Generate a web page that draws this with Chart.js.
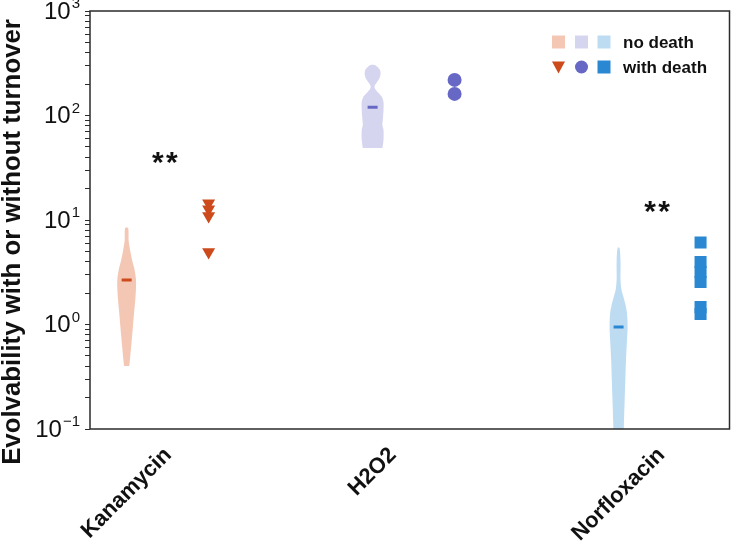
<!DOCTYPE html>
<html>
<head>
<meta charset="utf-8">
<script src="https://cdn.jsdelivr.net/npm/chart.js@4/dist/chart.umd.min.js"></script>
<style>
  html, body { margin: 0; padding: 0; background: #fff; }
</style>
</head>
<body>
<canvas id="evo" width="738" height="542"></canvas>
<script>
// categories, in the order they sit on the x axis
var categories = ['Kanamycin', 'H2O2', 'Norfloxacin'];

// violin outlines (no death): evolvability, bottom -> top, and relative density there
var kanaValues   = [0.401, 0.428, 0.609, 0.886, 1.29, 1.71, 2.14, 2.67, 3.32, 4.14, 5.16, 6.44, 8.37];
var kanaDensity  = [0.23, 0.27, 0.41, 0.55, 0.68, 0.79, 0.85, 0.86, 0.73, 0.50, 0.32, 0.18, 0.14];
var h2o2Values   = [48.9, 58.3, 72.7, 81.1, 94.4, 113, 134.7, 150.4, 164, 179.5, 191.6, 209.5, 228.6, 249.6, 272.5, 291, 304];
var h2o2Density  = [0.90, 1.00, 1.00, 0.90, 0.95, 1.00, 1.00, 0.86, 0.55, 0.23, 0.18, 0.41, 0.64, 0.73, 0.68, 0.45, 0.18];
var norfValues   = [0.0505, 0.0785, 0.122, 0.1895, 0.294, 0.457, 0.637, 0.886, 1.057, 1.29, 1.54, 1.83, 2.14, 2.67, 3.96, 5.40];
var norfDensity  = [0.41, 0.45, 0.50, 0.56, 0.62, 0.68, 0.75, 0.82, 0.82, 0.77, 0.64, 0.45, 0.27, 0.18, 0.18, 0.09];

// medians of the no-death runs
var medians = [2.67, 120, 0.946];

// with death, single runs
var kanaDeath = [14.5, 12.7, 10.9, 4.94];
var h2o2Death = [219, 161];
var norfDeath = [6.09, 3.96, 3.18, 2.55, 1.47, 1.26];

// significance marks
var sigText = ['**', '**'];
var sigX = [0.155, 2.157];
var sigY = [42.8, 14.5];

// y axis decades and their exponents
var yDecades = [0.1, 1, 10, 100, 1000];
var yExponents = ['\u22121', '0', '1', '2', '3'];

var legendLabels = ['no death', 'with death'];

var lightColors = ['#f4c7b4', '#d5d5f0', '#bddcf2'];
var darkColors = ['#cc4a1c', '#6767c6', '#2a87d2'];
var deathStyles = ['triangle', 'circle', 'rect'];

var FONT = "'Liberation Sans', Arial, sans-serif";
var VIOLIN_HALF = 0.0443;   // widest violin half width, in category units
var DEATH_SHIFT = 1 / 3;    // death runs sit right of the violin

function violinPoints(center, values, density) {
  var pts = [];
  for (var i = 0; i < values.length; i++) {
    pts.push({ x: center + density[i] * VIOLIN_HALF, y: values[i] });
  }
  for (var j = values.length - 1; j >= 0; j--) {
    pts.push({ x: center - density[j] * VIOLIN_HALF, y: values[j] });
  }
  return pts;
}

function column(x, values) {
  return values.map(function(v) { return { x: x, y: v }; });
}

// minor + major tick positions for the log axis
var yTickMarks = [];
yDecades.forEach(function(d, i) {
  if (i === yDecades.length - 1) { yTickMarks.push(d); return; }
  for (var k = 1; k <= 9; k++) yTickMarks.push(+(d * k).toPrecision(3));
});

var violins = [[kanaValues, kanaDensity], [h2o2Values, h2o2Density], [norfValues, norfDensity]];
var deaths = [kanaDeath, h2o2Death, norfDeath];

var datasets = [];
violins.forEach(function(v, i) {
  datasets.push({
    type: 'line',
    order: 3,
    data: violinPoints(i, v[0], v[1]),
    backgroundColor: lightColors[i],
    borderColor: 'rgba(0,0,0,0)',
    borderWidth: 0,
    pointRadius: 0,
    fill: 'shape',
    tension: 0.3
  });
});
medians.forEach(function(m, i) {
  datasets.push({
    order: 0,
    data: [{ x: i, y: m }],
    pointStyle: 'line',
    pointRadius: 5,
    borderWidth: 3,
    borderColor: darkColors[i],
    backgroundColor: darkColors[i]
  });
});
deaths.forEach(function(d, i) {
  datasets.push({
    order: 1,
    data: column(i + DEATH_SHIFT, d),
    pointStyle: deathStyles[i],
    rotation: deathStyles[i] === 'triangle' ? 180 : 0,
    pointRadius: deathStyles[i] === 'triangle' ? 7.5 : (deathStyles[i] === 'rect' ? 8.5 : 7),
    borderWidth: 0,
    backgroundColor: darkColors[i],
    borderColor: darkColors[i]
  });
});

function drawMarker(ctx, style, x, y, size, color) {
  ctx.fillStyle = color;
  ctx.beginPath();
  if (style === 'triangle') {
    ctx.moveTo(x - size * 0.5, y - size * 0.42);
    ctx.lineTo(x + size * 0.5, y - size * 0.42);
    ctx.lineTo(x, y + size * 0.5);
    ctx.closePath();
  } else if (style === 'circle') {
    ctx.arc(x, y, size / 2, 0, Math.PI * 2);
  } else {
    ctx.rect(x - size / 2, y - size / 2, size, size);
  }
  ctx.fill();
}

var decorations = {
  id: 'decorations',
  afterDatasetsDraw: function(chart) {
    var ctx = chart.ctx;
    var area = chart.chartArea;
    var xs = chart.scales.x;
    var ys = chart.scales.y;

    // frame
    ctx.save();
    ctx.strokeStyle = '#2b2b2b';
    ctx.lineWidth = 1.5;
    ctx.strokeRect(area.left, area.top, area.right - area.left, area.bottom - area.top);

    // y tick labels with superscripts
    ctx.fillStyle = '#111';
    ctx.textBaseline = 'middle';
    yDecades.forEach(function(d, i) {
      var py = ys.getPixelForValue(d);
      var right = area.left - 10;
      ctx.font = '15px ' + FONT;
      ctx.textAlign = 'right';
      var supW = ctx.measureText(yExponents[i]).width;
      ctx.fillText(yExponents[i], right, py - 7);
      ctx.font = '24px ' + FONT;
      ctx.fillText('10', right - supW - 1, py + 1);
    });

    // x category labels, rotated 45 degrees, centred on their tick
    ctx.font = 'bold 22px ' + FONT;
    ctx.textAlign = 'center';
    categories.forEach(function(c, i) {
      var w = ctx.measureText(c).width;
      var half = (w + 16) / (2 * Math.SQRT2);
      ctx.save();
      ctx.translate(xs.getPixelForValue(i), area.bottom + 17 + half);
      ctx.rotate(-Math.PI / 4);
      ctx.fillText(c, 0, 0);
      ctx.restore();
    });

    // y axis title
    ctx.save();
    ctx.font = 'bold 25.8px ' + FONT;
    ctx.translate(13, 242);
    ctx.rotate(-Math.PI / 2);
    ctx.fillText('Evolvability with or without turnover', 0, 0);
    ctx.restore();

    // significance stars, drawn one by one with a small gap
    ctx.font = 'bold 30px ' + FONT;
    ctx.textBaseline = 'alphabetic';
    sigText.forEach(function(t, i) {
      var cx = xs.getPixelForValue(sigX[i]);
      var cy = ys.getPixelForValue(sigY[i]) + 18;
      var n = t.length;
      for (var s = 0; s < n; s++) {
        ctx.fillText(t[s], cx + (s - (n - 1) / 2) * 14, cy);
      }
    });

    // legend
    var lx = [558.5, 581.5, 604];
    var ly = [42, 67];
    for (var k = 0; k < 3; k++) {
      drawMarker(ctx, 'rect', lx[k], ly[0], 13, lightColors[k]);
      drawMarker(ctx, deathStyles[k], lx[k], ly[1], 13, darkColors[k]);
    }
    ctx.fillStyle = '#111';
    ctx.font = 'bold 17px ' + FONT;
    ctx.textAlign = 'left';
    ctx.textBaseline = 'middle';
    legendLabels.forEach(function(t, i) {
      ctx.fillText(t, 623, ly[i] + 1);
    });
    ctx.restore();
  }
};

var chart = new Chart(document.getElementById('evo'), {
  type: 'scatter',
  data: { datasets: datasets },
  options: {
    responsive: false,
    animation: false,
    events: [],
    layout: { padding: { left: 0, right: 2, top: 11, bottom: 0 } },
    plugins: { legend: { display: false }, tooltip: { enabled: false } },
    scales: {
      x: {
        type: 'linear',
        min: -0.149,
        max: 2.451,
        grid: { display: false },
        ticks: { display: false },
        border: { display: false },
        afterFit: function(s) { s.height = 113; }
      },
      y: {
        type: 'logarithmic',
        min: 0.1,
        max: 1000,
        afterBuildTicks: function(s) {
          s.ticks = yTickMarks.map(function(v) { return { value: v }; });
        },
        grid: { drawOnChartArea: false, drawTicks: true, tickLength: 5, color: '#2b2b2b', lineWidth: 1 },
        ticks: { autoSkip: false, padding: 0, callback: function() { return ''; } },
        border: { display: false },
        afterFit: function(s) { s.width = 90; }
      }
    }
  },
  plugins: [decorations]
});
</script>
</body>
</html>
